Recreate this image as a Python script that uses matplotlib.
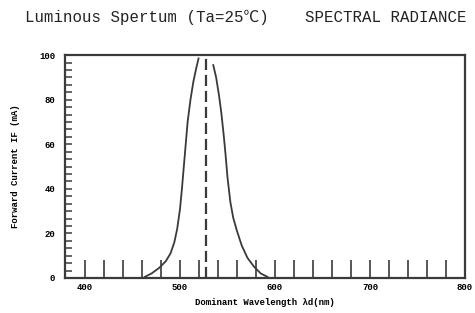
import matplotlib
matplotlib.use("Agg")
import numpy as np
import matplotlib.pyplot as plt
from matplotlib.ticker import MultipleLocator

# spectral curve (left and right branch)
left_nm = [463, 470, 478, 485, 490, 494, 497, 500, 502, 504, 506, 508, 511, 514, 517, 519.5]
left_val = [0.5, 2, 4.5, 7.5, 11, 16, 22, 31, 40, 50, 60, 70, 80, 88, 94, 98.5]
right_nm = [535, 538, 541, 543.5, 546, 548, 550, 553, 556, 560, 565, 571, 578, 585, 592]
right_val = [95.5, 90, 82, 74, 64, 55, 45, 34, 27, 21, 14.5, 9, 5, 2, 0.5]
peak_nm = 527

x_ticks = list(range(400, 801, 20))
x_labels = ['400', '500', '600', '700', '800']
y_labels = ['0', '20', '40', '60', '80', '100']

col = '#3a3a3a'
mono = ['Liberation Mono', 'DejaVu Sans Mono', 'Noto Sans CJK SC']

fig = plt.figure(figsize=(4.75, 3.13), dpi=100)
ax = fig.add_axes([0.137, 0.112, 0.842, 0.712])

ax.plot(left_nm, left_val, color=col, lw=1.3)
ax.plot(right_nm, right_val, color=col, lw=1.3)
ax.plot([peak_nm, peak_nm], [0, 99], color=col, lw=1.6, dashes=(5, 2.2))

ax.set_xlim(379, 800)
ax.set_ylim(0, 100)

ax.set_xticks(x_ticks)
ax.set_xticklabels([str(t) if str(t) in x_labels else '' for t in x_ticks],
                   fontsize=6.5, fontweight='bold', family=mono)
ax.tick_params(axis='x', direction='in', length=13, width=1.2, color=col, pad=4)

ax.set_yticks([int(v) for v in y_labels])
ax.set_yticklabels(y_labels, fontsize=6.5, fontweight='bold', family=mono)
ax.yaxis.set_minor_locator(MultipleLocator(100 / 30))
ax.tick_params(axis='y', which='both', direction='in', length=5, width=1.1, color=col, pad=7)

for s in ax.spines.values():
    s.set_linewidth(1.6)
    s.set_color(col)

ax.set_xlabel('Dominant Wavelength λd(nm)', fontsize=6.5, fontweight='bold', family=mono, labelpad=4)
ax.set_ylabel('Forward Current IF (mA)', fontsize=6.5, fontweight='bold', family=mono, labelpad=14)

fig.text(0.053, 0.945, 'Luminous Spertum (Ta=25℃)', fontsize=11.3, family=mono, color='#222222', va='center')
fig.text(0.642, 0.945, 'SPECTRAL RADIANCE', fontsize=11.3, family=mono, color='#222222', va='center')

fig.savefig('out.png', dpi=100)
